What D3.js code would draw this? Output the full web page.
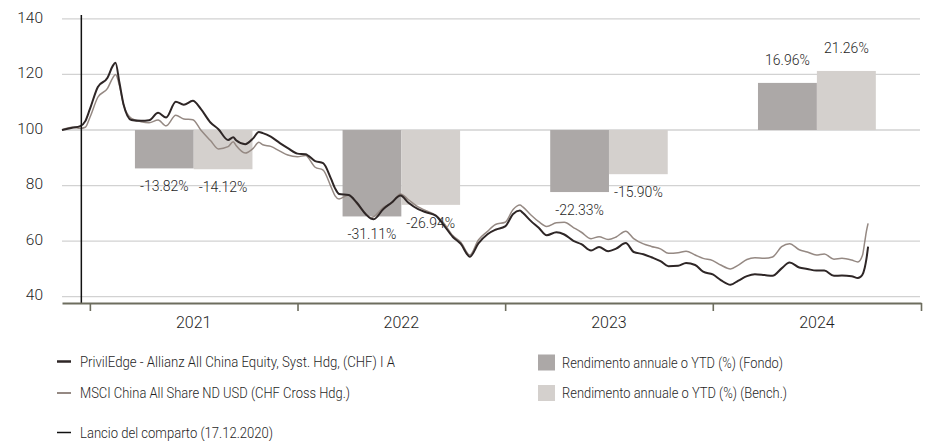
<!DOCTYPE html>
<html>
<head>
<meta charset="utf-8">
<script src="https://cdn.jsdelivr.net/npm/d3@7"></script>
<style>
  html, body { margin: 0; padding: 0; background: #fff; }
  svg { display: block; font-family: Roboto, "Liberation Sans", Arial, sans-serif; font-weight: 300; }
</style>
</head>
<body>
<svg id="chart" width="928" height="441"></svg>
<script>
// ---------------- DATA ----------------
const dates = [
  "2020-11-13","2020-12-01","2020-12-15","2020-12-24","2021-01-01","2021-01-15","2021-02-01","2021-02-10","2021-02-15","2021-02-22",
  "2021-03-01","2021-03-15","2021-04-01","2021-04-15","2021-05-01","2021-05-15","2021-06-01","2021-06-15","2021-07-01","2021-07-15",
  "2021-08-01","2021-08-15","2021-09-01","2021-09-10","2021-09-15","2021-10-01","2021-10-15","2021-10-25","2021-11-01","2021-11-15",
  "2021-12-01","2021-12-15","2022-01-01","2022-01-15","2022-02-01","2022-02-15","2022-03-01","2022-03-08","2022-03-15","2022-04-01",
  "2022-04-15","2022-05-01","2022-05-10","2022-05-15","2022-06-01","2022-06-15","2022-07-01","2022-07-15","2022-08-01","2022-08-15",
  "2022-09-01","2022-09-15","2022-10-01","2022-10-15","2022-10-31","2022-11-15","2022-12-01","2022-12-15","2023-01-01","2023-01-15",
  "2023-01-27","2023-02-01","2023-02-15","2023-03-01","2023-03-15","2023-04-01","2023-04-15","2023-05-01","2023-05-15","2023-06-01",
  "2023-06-15","2023-07-01","2023-07-15","2023-08-01","2023-08-15","2023-09-01","2023-09-15","2023-10-01","2023-10-15","2023-11-01",
  "2023-11-15","2023-12-01","2023-12-15","2024-01-01","2024-01-15","2024-02-01","2024-02-15","2024-03-01","2024-03-15","2024-04-01",
  "2024-04-15","2024-05-01","2024-05-15","2024-06-01","2024-06-15","2024-07-01","2024-07-15","2024-08-01","2024-08-15","2024-09-01",
  "2024-09-12","2024-09-20","2024-09-24","2024-09-27","2024-09-30"
];
const fundValues = [
  100,100.8,101.4,103.2,107.5,115.5,118.8,123,124.2,117,
  109.4,103.6,103.3,103.5,106.2,104.5,110.2,109.1,110.5,107.6,
  102.7,100.3,96.4,97.4,96.3,94.9,97,99.3,98.9,97.6,
  95.3,93.5,91.5,91.3,88.8,88.1,82.4,79,77,76.6,
  73.9,69.7,68.1,67.9,71.6,73.8,76.4,73.8,71.5,70.4,
  69.2,65.8,61.5,59,54.4,59.2,62.5,64.1,65.3,69.8,
  71,70.2,67.3,64.8,62.1,63.2,62.4,60.1,58.9,56.6,
  57.9,56.4,57.3,59.3,56.1,55.3,54.2,52.8,51,51.1,
  52.1,51.4,49,48,46,44.3,45.8,47.4,48.1,47.8,
  47.5,50.2,52.3,50.5,50,49.4,49.4,47.5,47.6,47.4,
  46.7,47.9,50.3,53.5,58
];
const benchValues = [
  100,101,100.6,101,104.5,111.8,115,118.7,120,116,
  109.2,104.2,103,102.6,103.6,101.5,105.3,104,103.7,100,
  96.2,93.2,94,95.8,94.4,91.7,93.4,95.6,94.7,94.1,
  92.4,91,90.4,90.8,86.6,85.6,79.5,76.3,75.2,76.6,
  73.5,69.8,68.4,68.8,72.2,73.6,77,74.9,72.3,71,
  69.3,66.5,62,59.6,55,60.4,63.5,66,66.8,71.4,
  73,72.3,69.5,67,65.3,66.6,66.8,64.9,63.2,60.9,
  61.6,60.6,61.5,63.6,60.9,59,58.1,57.2,55.6,55.8,
  56.4,55,53.8,53,51.4,50,51.4,53.4,54,53.8,
  54.3,58,59.1,56.9,56.1,55,55.4,53.5,53.8,53.2,
  52.5,54.8,59.6,63.5,66.4
];
const years = [2021, 2022, 2023, 2024];
const fondoReturns = [-13.82, -31.11, -22.33, 16.96];
const benchReturns = [-14.12, -26.94, -15.90, 21.26];
const yTicks = [40, 60, 80, 100, 120, 140];
const launchDate = "2020-12-17";
const domainDates = ["2020-11-13", "2025-01-01"];
const legendLineLabels = [
  "PrivilEdge - Allianz All China Equity, Syst. Hdg, (CHF) I A",
  "MSCI China All Share ND USD (CHF Cross Hdg.)",
  "Lancio del comparto (17.12.2020)"
];
const legendBarLabels = [
  "Rendimento annuale o YTD (%) (Fondo)",
  "Rendimento annuale o YTD (%) (Bench.)"
];

// ---------------- STYLE / LAYOUT ----------------
const C = {
  fund: "#2e2626", bench: "#958983", fondoBar: "#aca8a7", benchBar: "#d4d0cd",
  grid: "#d2d2d2", axis: "#6d6d5e", text: "#1f1f1f", launch: "#111111"
};
const parse = d3.timeParse("%Y-%m-%d");
const svg = d3.select("#chart");

const x = d3.scaleTime().domain(domainDates.map(parse)).range([62, 921]);
const y = d3.scaleLinear().domain([40, 140]).range([296.7, 18.9]);

// grid
svg.append("g").selectAll("line").data(yTicks).join("line")
  .attr("x1", 62).attr("x2", 920)
  .attr("y1", d => y(d)).attr("y2", d => y(d))
  .attr("stroke", C.grid).attr("stroke-width", 1.3);

// y axis labels
const yAxis = svg.append("g").attr("transform", "translate(46,0)")
  .call(d3.axisLeft(y).tickValues(yTicks).tickSize(0).tickPadding(3));
yAxis.select(".domain").remove();
yAxis.selectAll("text").attr("font-size", 15.5).attr("fill", C.text)
  .attr("font-family", "Roboto, sans-serif").attr("font-weight", 300).attr("dy", "0.2em");

// bars
const yearStart = yr => new Date(yr, 0, 1);
const yearMid = yr => (x(yearStart(yr)) + x(yearStart(yr + 1))) / 2;
const barW = yr => (x(yearStart(yr + 1)) - x(yearStart(yr))) * 0.283;

const barData = years.flatMap((yr, i) => [
  { yr, v: fondoReturns[i], kind: "fondo" },
  { yr, v: benchReturns[i], kind: "bench" }
]);
const bx = d => d.kind === "fondo" ? yearMid(d.yr) - barW(d.yr) : yearMid(d.yr);
svg.append("g").selectAll("rect").data(barData).join("rect")
  .attr("x", bx)
  .attr("width", d => barW(d.yr))
  .attr("y", d => Math.min(y(100), y(100 + d.v)))
  .attr("height", d => Math.abs(y(100 + d.v) - y(100)))
  .attr("fill", d => d.kind === "fondo" ? C.fondoBar : C.benchBar);

// lines
const fundSeries = dates.map((d, i) => ({ date: parse(d), v: fundValues[i] }));
const benchSeries = dates.map((d, i) => ({ date: parse(d), v: benchValues[i] }));
const line = d3.line().x(d => x(d.date)).y(d => y(d.v)).curve(d3.curveMonotoneX);
svg.append("path").datum(benchSeries).attr("d", line)
  .attr("fill", "none").attr("stroke", C.bench).attr("stroke-width", 1.5).attr("stroke-linejoin", "round");
svg.append("path").datum(fundSeries).attr("d", line)
  .attr("fill", "none").attr("stroke", C.fund).attr("stroke-width", 2).attr("stroke-linejoin", "round");

// bar labels
const fmt = v => v.toFixed(2) + "%";
svg.append("g").selectAll("text").data(barData).join("text")
  .attr("x", d => bx(d) + barW(d.yr) / 2)
  .attr("y", d => d.v < 0 ? y(100 + d.v) + 23 : y(100 + d.v) - 18)
  .attr("text-anchor", "middle").attr("font-size", 14).attr("fill", C.text)
  .text(d => fmt(d.v));

// launch line
svg.append("line")
  .attr("x1", x(parse(launchDate))).attr("x2", x(parse(launchDate)))
  .attr("y1", 15).attr("y2", 303)
  .attr("stroke", C.launch).attr("stroke-width", 1.5);

// x axis
const xAxis = svg.append("g").attr("transform", "translate(0,303)")
  .call(d3.axisBottom(x).tickValues([...years, 2025].map(yearStart))
    .tickSize(8).tickSizeOuter(0).tickFormat(""));
xAxis.select(".domain").attr("stroke", C.axis).attr("stroke-width", 2);
xAxis.selectAll(".tick line").attr("stroke", C.axis).attr("stroke-width", 1.6);

svg.append("g").selectAll("text").data(years).join("text")
  .attr("x", d => yearMid(d)).attr("y", 327.5)
  .attr("text-anchor", "middle").attr("font-size", 16).attr("fill", C.text)
  .text(d => d);

// legend
const legLines = [
  { label: legendLineLabels[0], color: C.fund, w: 2.5, cy: 361.5, len: 315 },
  { label: legendLineLabels[1], color: C.bench, w: 2, cy: 393, len: 270 },
  { label: legendLineLabels[2], color: C.launch, w: 1.5, cy: 432.5, len: 193 }
];
const lg = svg.append("g");
lg.selectAll("line").data(legLines).join("line")
  .attr("x1", 57).attr("x2", 71).attr("y1", d => d.cy).attr("y2", d => d.cy)
  .attr("stroke", d => d.color).attr("stroke-width", d => d.w);
lg.selectAll("text").data(legLines).join("text")
  .attr("x", 80).attr("y", d => d.cy + 5.3)
  .attr("font-size", 15).attr("fill", C.text)
  .attr("textLength", d => d.len).attr("lengthAdjust", "spacingAndGlyphs")
  .text(d => d.label);

const legBars = [
  { label: legendBarLabels[0], color: C.fondoBar, cy: 362.5, len: 221 },
  { label: legendBarLabels[1], color: C.benchBar, cy: 393, len: 225 }
];
const lb = svg.append("g");
lb.selectAll("rect").data(legBars).join("rect")
  .attr("x", 538).attr("y", d => d.cy - 8).attr("width", 17).attr("height", 16)
  .attr("fill", d => d.color);
lb.selectAll("text").data(legBars).join("text")
  .attr("x", 562).attr("y", d => d.cy + 5.3)
  .attr("font-size", 15).attr("fill", C.text)
  .attr("textLength", d => d.len).attr("lengthAdjust", "spacingAndGlyphs")
  .text(d => d.label);
</script>
</body>
</html>
